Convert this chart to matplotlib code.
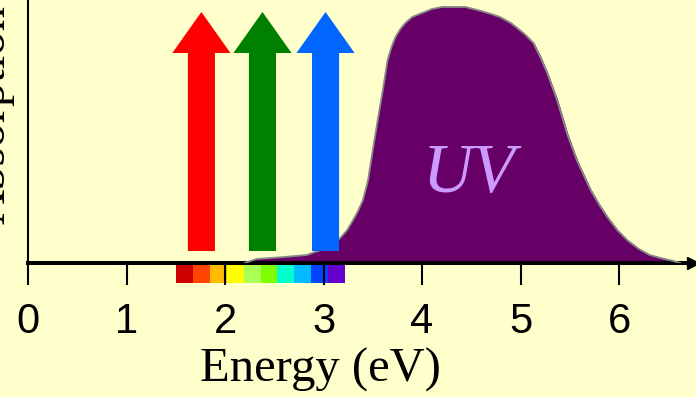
import matplotlib.pyplot as plt
import numpy as np

# absorption band (energy in eV, height in arbitrary units)
uv_energy = [2.20, 2.32, 2.60, 2.83, 3.00, 3.10, 3.17, 3.24, 3.30, 3.35, 3.40, 3.45,
             3.50, 3.55, 3.60, 3.65, 3.69, 3.73, 3.78, 3.83, 3.90, 4.00, 4.10, 4.20,
             4.30, 4.44, 4.60, 4.70, 4.79, 4.90, 4.99, 5.05, 5.13, 5.20, 5.27, 5.37,
             5.47, 5.57, 5.63, 5.71, 5.80, 5.88, 5.98, 6.08, 6.20, 6.31, 6.42, 6.55, 6.62]
uv_absorb = [0, 4, 6, 8, 14, 19, 25, 33, 43, 52, 63, 82,
             113, 143, 172, 203, 216, 226, 234, 240, 246, 250, 254, 256,
             256, 256, 252, 249, 246, 240, 233, 228, 220, 206, 190, 163,
             130, 103, 90, 73, 58, 46, 33, 23, 14, 8, 5, 2, 0]

# visible light arrows
arrow_energy = [1.76, 2.38, 3.02]
arrow_colors = ["#ff0000", "#008000", "#0066ff"]

# visible spectrum strip
strip_start = 1.50
strip_step = 0.172
strip_colors = ["#cc0000", "#ff4400", "#ffbb00", "#ffff00", "#aaff55",
                "#80ff00", "#00ffcc", "#00bbff", "#0044ff", "#6600cc"]

ticks = [0, 1, 2, 3, 4, 5, 6]
BG = "#ffffcc"

fig = plt.figure(figsize=(6.96, 3.97), dpi=100, facecolor=BG)
ax = fig.add_axes([28 / 696, (397 - 263) / 397, 665 / 696, 263 / 397])
ax.set_facecolor(BG)
ax.set_xlim(0, 6.75)
ax.set_ylim(0, 263)

# UV band
ax.fill_between(uv_energy, uv_absorb, 0, color="#660066", zorder=2)
ax.plot(uv_energy, uv_absorb, color="#888888", lw=1.3, zorder=3)
ax.text(4.48, 88, "UV", color="#cc99ff", fontsize=50, style="italic",
        family="Liberation Serif", ha="center", va="center", zorder=4)

# arrows
for e, c in zip(arrow_energy, arrow_colors):
    ax.arrow(e, 12, 0, 239, width=0.275, head_width=0.59, head_length=41,
             length_includes_head=True, color=c, lw=0, zorder=3)

# spectrum strip under the axis
xs = strip_start + strip_step * np.arange(len(strip_colors))
ax.bar(xs, 18, width=strip_step, bottom=-20, align="edge", color=strip_colors,
       clip_on=False, zorder=1)

# axes styling
for s in ["top", "right"]:
    ax.spines[s].set_visible(False)
ax.spines["bottom"].set_linewidth(2.9)
ax.spines["left"].set_linewidth(1.5)
ax.plot(1, 0, ">k", ms=9, transform=ax.get_yaxis_transform(), clip_on=False, zorder=5)
ax.set_xticks(ticks)
ax.set_xticklabels([str(t) for t in ticks], family="Liberation Sans", fontsize=30)
ax.tick_params(axis="x", direction="out", length=16, width=1.5, pad=12)
ax.set_yticks([])

fig.text(320 / 696, (397 - 382) / 397, "Energy (eV)", family="Liberation Serif",
         fontsize=35, ha="center", va="baseline")
fig.text(15 / 696, (397 - 115) / 397, "Absorption", family="Liberation Serif",
         fontsize=35, rotation=90, ha="right", va="center")

fig.savefig("out.png", dpi=100, facecolor=BG)
